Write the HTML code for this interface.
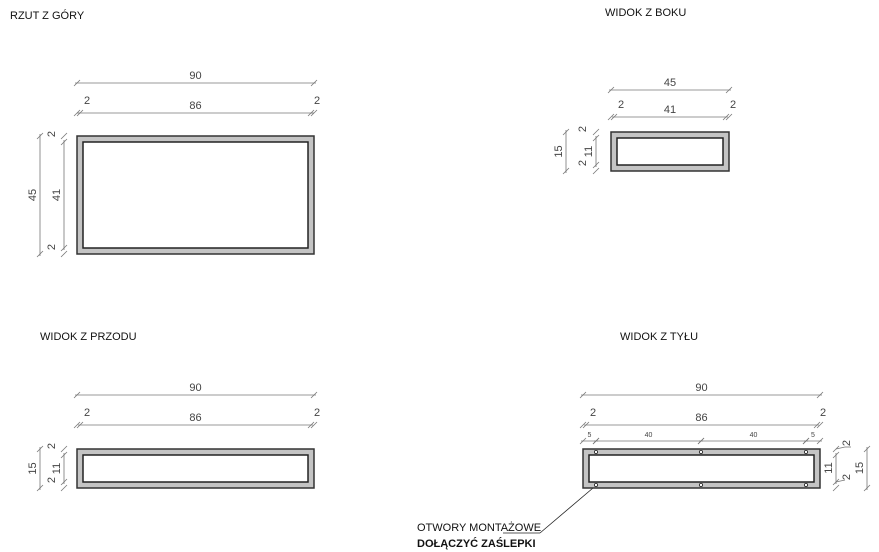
<!DOCTYPE html>
<html><head><meta charset="utf-8"><style>
html,body{margin:0;padding:0;background:#fff;}
svg{display:block;font-family:"Liberation Sans",sans-serif;}
</style></head><body>
<svg id="s" width="879" height="552" viewBox="0 0 879 552" xmlns="http://www.w3.org/2000/svg">
<g font-size="11" fill="#111">
<text x="10" y="19">RZUT Z GÓRY</text>
<text x="605" y="16">WIDOK Z BOKU</text>
<text x="40" y="340">WIDOK Z PRZODU</text>
<text x="620" y="340">WIDOK Z TYŁU</text>
<text x="417" y="531">OTWORY MONTAŻOWE</text>
<text x="417" y="547" font-weight="bold">DOŁĄCZYĆ ZAŚLEPKI</text>
</g>
<line x1="503" y1="533" x2="540" y2="533" stroke="#222" stroke-width="0.8"/>
<line x1="540" y1="533" x2="593" y2="488" stroke="#222" stroke-width="0.8"/>
<g id="d" stroke="#777" stroke-width="0.8" fill="none"></g>
<g id="t" font-size="11" fill="#444"></g>
</svg>
<script>
var d=document.getElementById('d'),t=document.getElementById('t'),s=document.getElementById('s');
var NS='http://www.w3.org/2000/svg';
function el(p,n,a,txt){var e=document.createElementNS(NS,n);for(var k in a)e.setAttribute(k,a[k]);if(txt)e.textContent=txt;p.appendChild(e);return e;}
function L(x1,y1,x2,y2){el(d,'line',{x1:x1,y1:y1,x2:x2,y2:y2});}
function tk(x,y){L(x-3,y+3,x+3,y-3);}
function H(x1,x2,y,lab,fs){L(x1-2,y,x2+2,y);tk(x1,y);tk(x2,y);if(lab)el(t,'text',{x:(x1+x2)/2,y:y-4,'text-anchor':'middle','font-size':fs||11},lab);}
function V(x,y1,y2,lab){L(x,y1-2,x,y2+2);tk(x,y1);tk(x,y2);if(lab){var cy=(y1+y2)/2;el(t,'text',{x:x-4,y:cy,'text-anchor':'middle',transform:'rotate(-90 '+(x-4)+' '+cy+')'},lab);}}
function two(x,y){el(t,'text',{x:x,y:y},'2');}
function rect(x,y,w,h){el(s,'rect',{x:x,y:y,width:w,height:h,fill:'#c4c4c4',stroke:'#333','stroke-width':1.5});el(s,'rect',{x:x+6,y:y+6,width:w-12,height:h-12,fill:'#fff',stroke:'#222','stroke-width':1.5});}
// top view
rect(77,136,237,118);
H(77,314,83,'90');H(80,311,113,'86');L(77,113,80,113);L(311,113,314,113);tk(77,113);tk(314,113);
two(84,104);two(314,104);
V(40,136,254,'45');V(64,142,248,'41');tk(64,136);tk(64,254);
el(t,'text',{x:55,y:134,transform:'rotate(-90 55 134)','text-anchor':'middle'},'2');
el(t,'text',{x:55,y:247,transform:'rotate(-90 55 247)','text-anchor':'middle'},'2');
// side view
rect(611,132,118,39);
H(611,729,90,'45');H(614,726,117,'41');tk(611,117);tk(729,117);
two(618,108);two(730,108);
V(566,132,171,'15');V(596,138,165,'11');tk(596,132);tk(596,171);
el(t,'text',{x:586,y:129,transform:'rotate(-90 586 129)','text-anchor':'middle'},'2');
el(t,'text',{x:586,y:163,transform:'rotate(-90 586 163)','text-anchor':'middle'},'2');
// front view
rect(77,449,237,39);
H(77,314,395,'90');H(80,311,425,'86');tk(77,425);tk(314,425);
two(84,416);two(314,416);
V(40,449,488,'15');V(64,455,482,'11');tk(64,449);tk(64,488);
el(t,'text',{x:55,y:446,transform:'rotate(-90 55 446)','text-anchor':'middle'},'2');
el(t,'text',{x:55,y:480,transform:'rotate(-90 55 480)','text-anchor':'middle'},'2');
// back view
rect(583,449,237,39);
H(583,820,395,'90');H(586,817,425,'86');tk(583,425);tk(820,425);
two(590,416);two(820,416);
H(583,596,441,'5',7);H(596,701,441,'40',7);H(701,806,441,'40',7);H(806,820,441,'5',7);
[596,701,806].forEach(function(x){[452,485].forEach(function(y){el(s,'circle',{cx:x,cy:y,r:1.6,fill:'#fff',stroke:'#222','stroke-width':0.8});});});
(function(){var x=836;L(x,453,x,484);tk(x,455);tk(x,482);tk(x,449);tk(x,488);
el(t,'text',{x:832,y:468,transform:'rotate(-90 832 468)','text-anchor':'middle'},'11');
L(836,449,845,447);L(845,447,851,447);L(836,482,845,480);
el(t,'text',{x:850,y:443,transform:'rotate(-90 850 443)','text-anchor':'middle'},'2');
el(t,'text',{x:850,y:477,transform:'rotate(-90 850 477)','text-anchor':'middle'},'2');
V(867,449,488,null);el(t,'text',{x:863,y:468,transform:'rotate(-90 863 468)','text-anchor':'middle'},'15');})();
</script>
</body></html>
